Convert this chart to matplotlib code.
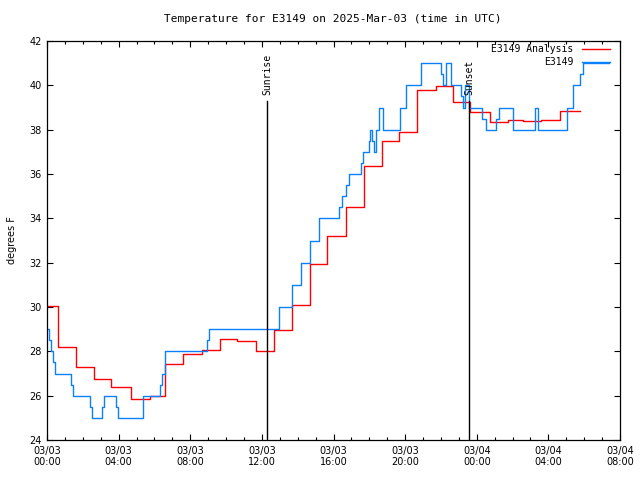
import numpy as np
import matplotlib
matplotlib.use("Agg")
import matplotlib.pyplot as plt
from matplotlib.ticker import MultipleLocator

# hours since 2025-03-03 00:00 UTC, step values (deg F)
red_t = [0.0, 0.63, 1.62, 2.64, 3.58, 4.67, 5.75, 6.6, 7.6, 8.68, 9.66, 10.6,
         11.68, 12.68, 13.67, 14.7, 15.66, 16.7, 17.7, 18.7, 19.68, 20.69,
         21.75, 22.68, 23.65, 24.75, 25.77, 26.61, 27.6, 28.66, 29.78]
red_v = [30.05, 28.2, 27.3, 26.75, 26.4, 25.85, 26.0, 27.45, 27.9, 28.05, 28.55,
         28.45, 28.0, 28.95, 30.1, 31.95, 33.2, 34.5, 36.35, 37.5, 37.9, 39.8,
         39.95, 39.25, 38.8, 38.35, 38.45, 38.4, 38.45, 38.85, 38.85]

blue_t = [0.0, 0.12, 0.25, 0.35, 0.45, 1.35, 1.47, 2.38, 2.5, 3.05, 3.2, 3.85,
          3.98, 5.35, 6.31, 6.42, 6.58, 8.92, 9.05, 12.95, 13.7, 14.2, 14.7,
          15.2, 16.3, 16.45, 16.72, 16.88, 17.55, 17.65, 17.97, 18.05, 18.15,
          18.25, 18.38, 18.55, 18.75, 19.7, 20.05, 20.86, 22.0, 22.1, 22.3,
          22.55, 23.1, 23.22, 23.35, 23.55, 24.3, 24.52, 25.1, 25.25, 26.05,
          27.25, 27.42, 29.05, 29.4, 29.78, 29.92, 31.4]
blue_v = [29, 28.5, 28, 27.5, 27, 26.5, 26, 25.5, 25, 25.5, 26, 25.5,
          25, 26, 26.5, 27, 28, 28.5, 29, 30, 31, 32, 33,
          34, 34.5, 35, 35.5, 36, 36.5, 37, 37.5, 38, 37.5,
          37, 38, 39, 38, 39, 40, 41, 40.5, 40, 41,
          40, 39.5, 39, 40, 39, 38.5, 38, 38.5, 39, 38,
          39, 38, 39, 40, 40.5, 41, 41]

sunrise = 12.3
sunset = 23.58
xtick_hours = [0, 4, 8, 12, 16, 20, 24, 28, 32]
xtick_labels = ["03/03\n00:00", "03/03\n04:00", "03/03\n08:00", "03/03\n12:00",
                "03/03\n16:00", "03/03\n20:00", "03/04\n00:00", "03/04\n04:00",
                "03/04\n08:00"]

mono = "DejaVu Sans Mono"
fig = plt.figure(figsize=(6.4, 4.8), dpi=100)
ax = fig.add_axes([47 / 640, 40 / 480, 573 / 640, 399 / 480])

ax.plot(red_t, red_v, drawstyle="steps-post", color="#ff0000", lw=1.0,
        label="E3149 Analysis")
ax.plot(blue_t, blue_v, drawstyle="steps-post", color="#0a80ff", lw=1.0,
        label="E3149")

# sunrise / sunset markers
for h, name in [(sunrise, "Sunrise"), (sunset, "Sunset")]:
    ax.plot([h, h], [24, 39.3], color="black", lw=1.0)
    ax.text(h, 39.55, name, rotation=90, ha="center", va="bottom",
            fontsize=7, family=mono)

ax.set_xlim(0, 32)
ax.set_ylim(24, 42)
ax.set_xticks(xtick_hours)
ax.set_xticklabels(xtick_labels, fontsize=7, family=["Liberation Sans Narrow", "DejaVu Sans"])
ax.xaxis.set_minor_locator(MultipleLocator(1))
ax.set_yticks(np.arange(24, 43, 2))
ax.set_yticklabels([str(v) for v in range(24, 43, 2)], fontsize=7)
ax.tick_params(which="major", direction="in", length=4, width=0.8,
               top=True, right=True, pad=4)
ax.tick_params(which="minor", direction="in", length=2, width=0.8, top=True)
for s in ax.spines.values():
    s.set_linewidth(0.9)

ax.set_ylabel("degrees F", fontsize=7, labelpad=9)
fig.text(333 / 640, 1 - 19 / 480, "Temperature for E3149 on 2025-Mar-03 (time in UTC)",
         ha="center", va="center", fontsize=8, family=mono)

ax.legend(loc="upper right", bbox_to_anchor=((610 - 47) / 573, (440 - 44) / 399),
          borderaxespad=0, borderpad=0, frameon=False, markerfirst=False,
          handlelength=2.9, handletextpad=0.9, labelspacing=0.35,
          prop={"family": mono, "size": 7})

fig.savefig("out.png", dpi=100)
